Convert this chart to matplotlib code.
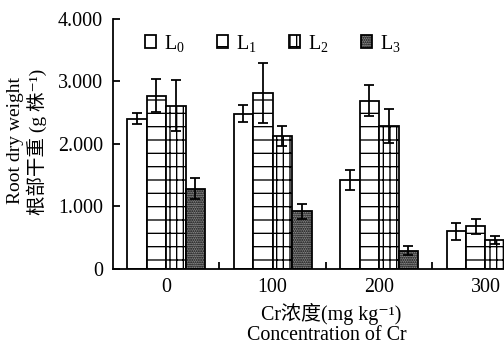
import matplotlib
matplotlib.use("Agg")
import matplotlib.pyplot as plt
import numpy as np

plt.rcParams['font.family'] = ['Liberation Serif', 'Noto Sans CJK SC', 'DejaVu Serif']
plt.rcParams['mathtext.fontset'] = 'custom'
plt.rcParams['mathtext.rm'] = 'Liberation Serif'
plt.rcParams['mathtext.it'] = 'Liberation Serif'
plt.rcParams['hatch.linewidth'] = 1.2

concentrations = ['0', '100', '200', '300']
series_names = ['L$_{0}$', 'L$_{1}$', 'L$_{2}$', 'L$_{3}$']
L0 = [2.40, 2.48, 1.42, 0.60]
L1 = [2.77, 2.81, 2.69, 0.68]
L2 = [2.61, 2.13, 2.28, 0.46]
L3 = [1.28, 0.92, 0.29, 0.20]
L0_err = [0.09, 0.14, 0.16, 0.13]
L1_err = [0.26, 0.48, 0.25, 0.12]
L2_err = [0.40, 0.16, 0.27, 0.06]
L3_err = [0.17, 0.12, 0.07, 0.05]
yticks = [0, 1, 2, 3, 4]
ytick_labels = ['0', '1.000', '2.000', '3.000', '4.000']

values = [L0, L1, L2, L3]
errors = [L0_err, L1_err, L2_err, L3_err]
hatches = ['', '-', '-||', '......']
faces = ['white', 'white', 'white', '#8f8f8f']

fig = plt.figure(figsize=(6.3, 4.35), dpi=80)
ax = fig.add_axes([113/504, 79/348, 1 - 113/504, (269-18.5)/348])

x = np.arange(len(concentrations))
w = 0.183
for i, (vals, errs) in enumerate(zip(values, errors)):
    ax.bar(x + (i - 1.5) * w, vals, w, facecolor=faces[i], edgecolor='black',
           linewidth=1.6, hatch=hatches[i], label=series_names[i], zorder=2)
    ax.errorbar(x + (i - 1.5) * w, vals, yerr=errs, fmt='none', ecolor='black',
                elinewidth=1.6, capsize=4.5, capthick=1.6, zorder=3)

ax.set_xlim(-0.5, 3.174)
ax.set_ylim(0, 4)
for s in ['top', 'right']:
    ax.spines[s].set_visible(False)
for s in ['left', 'bottom']:
    ax.spines[s].set_linewidth(1.6)

ax.set_yticks(yticks)
ax.set_yticklabels(ytick_labels)
ax.tick_params(axis='y', direction='in', length=6, width=1.6, pad=9, labelsize=18)
ax.set_xticks(x)
ax.set_xticklabels(concentrations)
ax.tick_params(axis='x', which='major', length=0, pad=8, labelsize=18)
ax.set_xticks(x[:-1] + 0.5, minor=True)
ax.tick_params(axis='x', which='minor', direction='in', length=6, width=1.6)

leg = ax.legend(loc='upper left', bbox_to_anchor=(0.05, 0.99), ncol=4, frameon=False,
                fontsize=18, handlelength=0.55, handleheight=0.62, handletextpad=0.4,
                columnspacing=1.62, borderaxespad=0.2)

fig.text(331/504, 1 - 314/348, 'Cr浓度(mg kg⁻¹)', ha='center', va='center', fontsize=18)
fig.text(327/504, 1 - 335/348, 'Concentration of Cr', ha='center', va='center', fontsize=18)
fig.text(16/504, 1 - 141/348, 'Root dry weight', ha='center', va='center', rotation=90, fontsize=17.5)
fig.text(37/504, 1 - 142/348, '根部干重 (g 株⁻¹)', ha='center', va='center', rotation=90, fontsize=17.5)

fig.savefig('out.png', dpi=80)
